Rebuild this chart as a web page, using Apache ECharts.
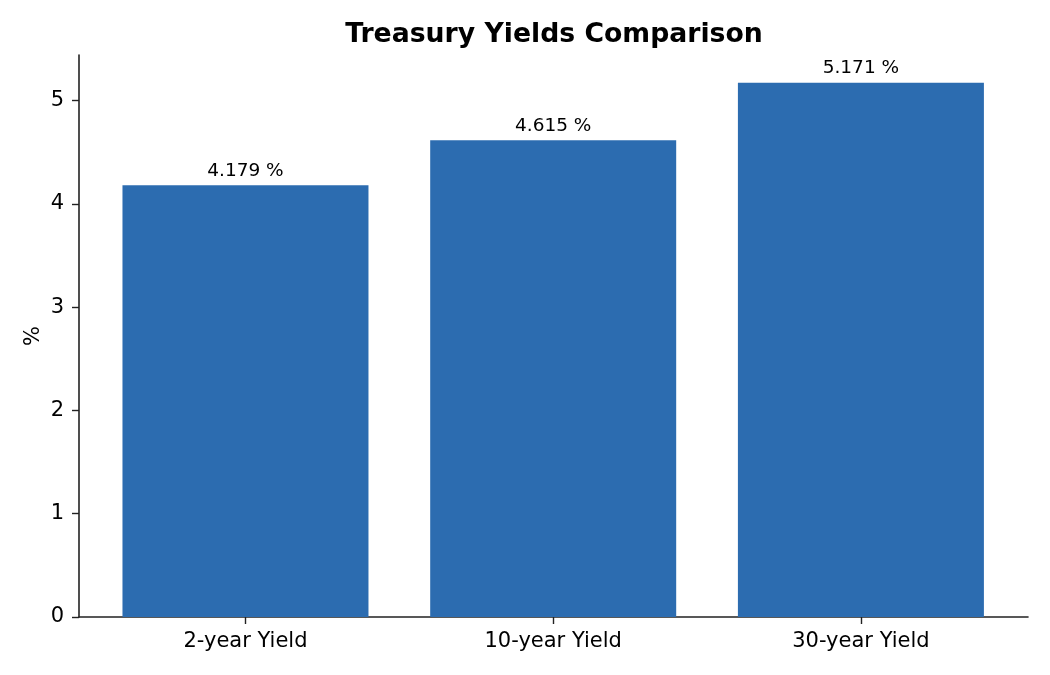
<!DOCTYPE html>
<html>
<head>
<meta charset="utf-8">
<script src="https://cdn.jsdelivr.net/npm/echarts@6/dist/echarts.min.js"></script>
<style>
  html, body { margin: 0; padding: 0; background: #fff; }
  #chart { width: 1050px; height: 675px; }
</style>
</head>
<body>
<div id="chart"></div>
<script>
// data
const categories = ['2-year Yield', '10-year Yield', '30-year Yield'];
const yields = [4.179, 4.615, 5.171];
const yTicks = [0, 1, 2, 3, 4, 5];

const font = 'DejaVu Sans';
const chart = echarts.init(document.getElementById('chart'), null, { renderer: 'canvas' });

const option = {
  animation: false,
  textStyle: { fontFamily: font },
  title: {
    text: 'Treasury Yields Comparison',
    left: 549,
    top: 17,
    textAlign: 'center',
    textStyle: { fontFamily: font, fontSize: 26.7, fontWeight: 'bold', color: '#000' }
  },
  grid: { left: 79, right: 22, top: 55, bottom: 58 },
  xAxis: {
    type: 'value',
    min: -0.541,
    max: 2.543,
    splitLine: { show: false },
    axisLine: { show: true, onZero: false, lineStyle: { color: '#222', width: 1.6 } },
    axisTick: { show: true, length: 7, lineStyle: { color: '#222', width: 1.4 }, customValues: [0, 1, 2] },
    axisLabel: {
      customValues: [0, 1, 2],
      formatter: v => categories[Math.round(v)],
      fontFamily: font, fontSize: 21, color: '#000', margin: 14
    }
  },
  yAxis: {
    type: 'value',
    min: 0,
    max: 5.44,
    name: '%',
    nameLocation: 'middle',
    nameGap: 35,
    nameMoveOverlap: false,
    nameTextStyle: { fontFamily: font, fontSize: 21, color: '#000' },
    splitLine: { show: false },
    axisLine: { show: true, onZero: false, lineStyle: { color: '#222', width: 1.6 } },
    axisTick: { show: true, length: 7, lineStyle: { color: '#222', width: 1.4 }, customValues: yTicks },
    axisLabel: { customValues: yTicks, fontFamily: font, fontSize: 21, color: '#000', margin: 15 }
  },
  series: [{
    type: 'bar',
    data: yields.map((v, i) => [i, v]),
    barWidth: 246,
    itemStyle: { color: '#2c6cb0' },
    label: {
      show: true,
      position: 'top',
      distance: 5,
      formatter: p => p.value[1].toFixed(3) + ' %',
      fontFamily: font, fontSize: 18.5, color: '#000'
    }
  }]
};
chart.setOption(option);
</script>
</body>
</html>
